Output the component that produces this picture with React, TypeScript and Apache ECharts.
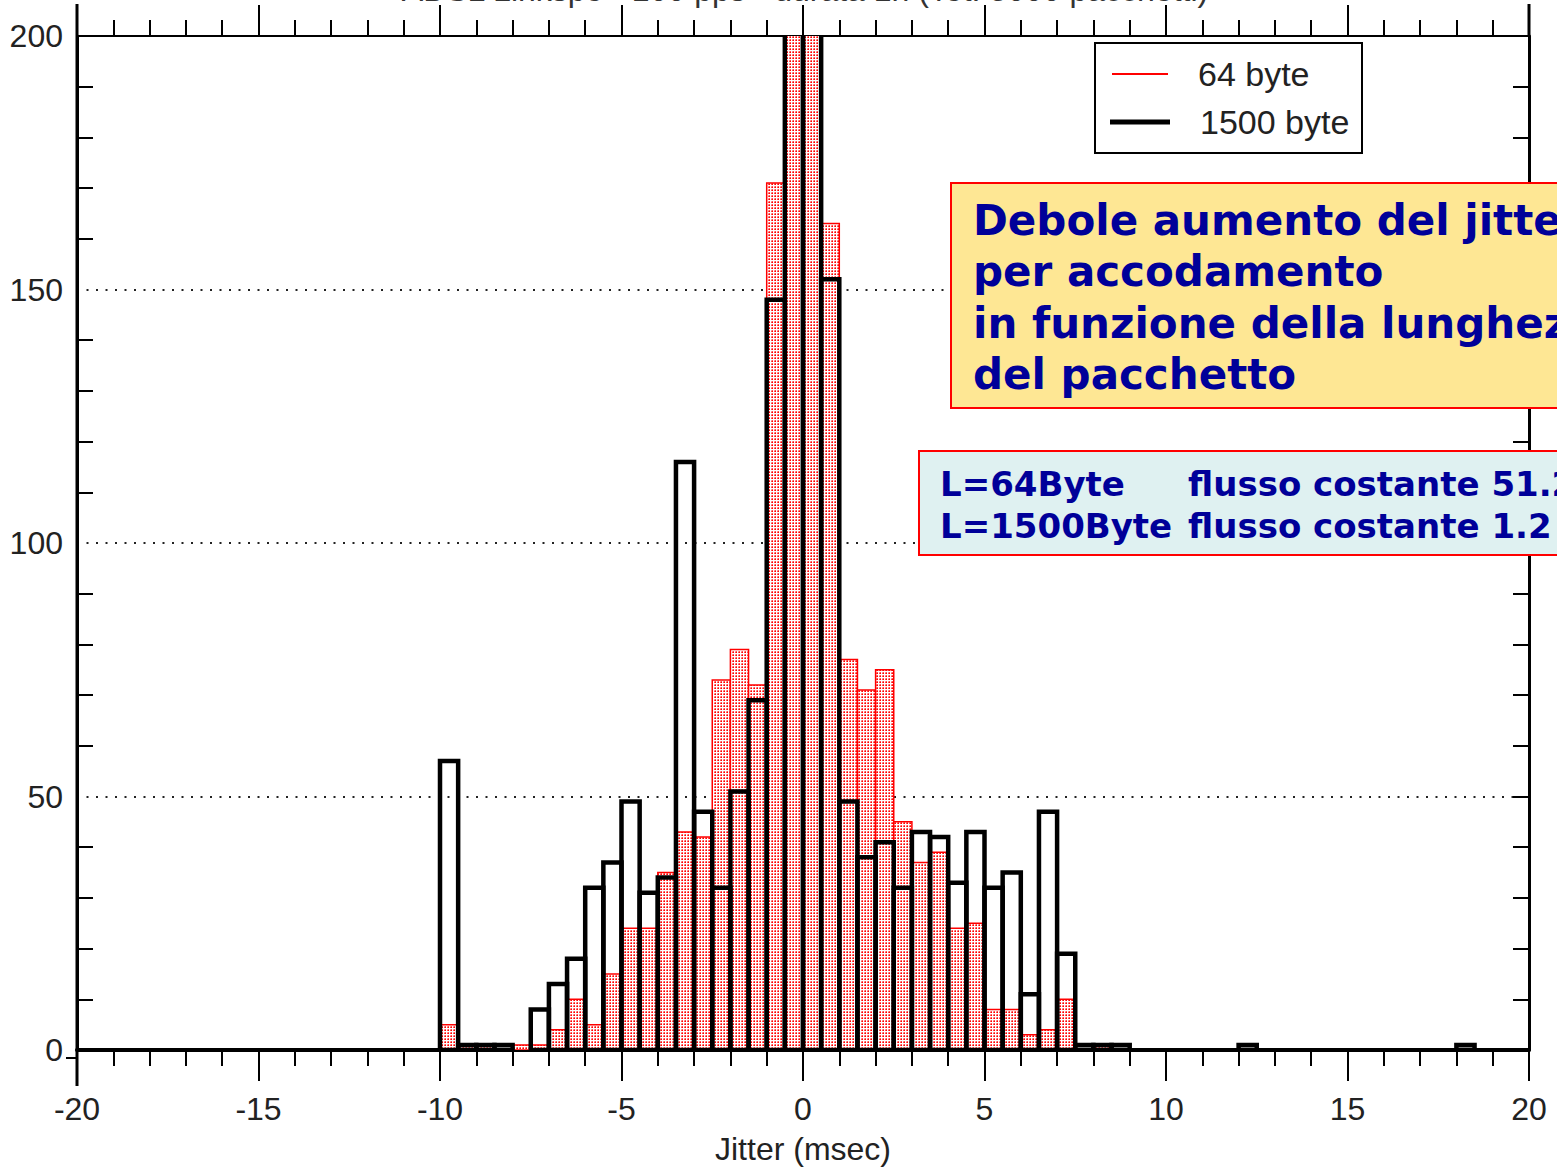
import React, { useEffect, useRef } from "react";
import * as echarts from "echarts";

// ---- data ----
const BIN_WIDTH = 0.5;
const binLeft = [
  -10, -9.5, -9, -8.5, -8, -7.5, -7, -6.5, -6, -5.5, -5, -4.5, -4, -3.5, -3, -2.5, -2, -1.5, -1, -0.5,
  0, 0.5, 1, 1.5, 2, 2.5, 3, 3.5, 4, 4.5, 5, 5.5, 6, 6.5, 7, 7.5, 8, 8.5, 12, 18,
];
const bytes64 = [
  5, 1, 1, 0, 1, 1, 4, 10, 5, 15, 24, 24, 35, 43, 42, 73, 79, 72, 171, 1900,
  1880, 163, 77, 71, 75, 45, 37, 39, 24, 25, 8, 8, 3, 4, 10, 0, 1, 0, 0, 0,
];
const bytes1500 = [
  57, 1, 1, 1, 0, 8, 13, 18, 32, 37, 49, 31, 34, 116, 47, 32, 51, 69, 148, 1800,
  1830, 152, 49, 38, 41, 32, 43, 42, 33, 43, 32, 35, 11, 47, 19, 1, 1, 1, 1, 1,
];
const seriesNames = ["64 byte", "1500 byte"];
const xRange = [-20, 20];
const yRange = [0, 200];
const titleText = "ADSL Linkspo - 100 pps - durata 1h (Tot. 5000 pacchetti)";
const xAxisName = "Jitter (msec)";
const noteLines = [
  "Debole aumento del jitter",
  "per accodamento",
  "in funzione della lunghezza",
  "del pacchetto",
];
const flowLabels = ["L=64Byte", "L=1500Byte"];
const flowTexts = ["flusso costante 51.2 kbit/s", "flusso costante 1.2 Mbit/s"];

const AXIS_FONT = "'Liberation Sans', Arial, Helvetica, sans-serif";
const NOTE_FONT = "'DejaVu Sans', Verdana, sans-serif";

function toBins(vals: number[]) {
  const out: number[][] = [];
  binLeft.forEach((l, i) => {
    if (vals[i] > 0) out.push([l, l + BIN_WIDTH, vals[i]]);
  });
  return out;
}

function makeRender(fill: any, stroke: string, lw: number) {
  return (_params: any, api: any) => {
    const x0 = api.value(0);
    const x1 = api.value(1);
    const v = api.value(2);
    const tl = api.coord([x0, v]);
    const br = api.coord([x1, 0]);
    return {
      type: "rect",
      shape: { x: tl[0], y: tl[1], width: br[0] - tl[0], height: br[1] - tl[1] },
      style: { fill, stroke, lineWidth: lw },
    };
  };
}

export default function App() {
  const ref = useRef<HTMLDivElement>(null);
  useEffect(() => {
    if (!ref.current) return;
    const chart = echarts.init(ref.current, undefined, { renderer: "svg" });

    const c = document.createElement("canvas");
    c.width = 3;
    c.height = 3;
    const ctx = c.getContext("2d")!;
    ctx.fillStyle = "#ffffff";
    ctx.fillRect(0, 0, 3, 3);
    ctx.fillStyle = "#ff9c9c";
    ctx.fillRect(0, 0, 1, 1);
    ctx.fillStyle = "#ff5050";
    ctx.fillRect(1, 0, 1, 1);
    ctx.fillRect(0, 1, 1, 1);
    ctx.fillStyle = "#ff0000";
    ctx.fillRect(1, 1, 1, 1);
    const pattern = { image: c, repeat: "repeat" };

    const tickStyle = { color: "#000", width: 2 };

    const option: any = {
      animation: false,
      backgroundColor: "#ffffff",
      grid: { left: 77, right: 28, top: 36, bottom: 112 },
      xAxis: [
        {
          type: "value",
          position: "bottom",
          min: xRange[0],
          max: xRange[1],
          interval: 5,
          axisLine: { show: true, onZero: false, lineStyle: { color: "#000", width: 4 } },
          axisTick: { show: true, inside: false, length: 31, lineStyle: tickStyle },
          minorTick: { show: true, splitNumber: 5, length: 16, lineStyle: tickStyle },
          splitLine: { show: false },
          axisLabel: { fontSize: 32, color: "#222", fontFamily: AXIS_FONT, margin: 43 },
          name: xAxisName,
          nameLocation: "middle",
          nameGap: 83,
          nameTextStyle: { fontSize: 32, color: "#222", fontFamily: AXIS_FONT },
        },
        {
          type: "value",
          position: "top",
          min: xRange[0],
          max: xRange[1],
          interval: 5,
          axisLine: { show: true, onZero: false, lineStyle: { color: "#000", width: 2 } },
          axisTick: { show: true, inside: false, length: 31, lineStyle: tickStyle },
          minorTick: { show: true, splitNumber: 5, length: 16, lineStyle: tickStyle },
          splitLine: { show: false },
          axisLabel: { show: false },
        },
      ],
      yAxis: [
        {
          type: "value",
          position: "left",
          min: yRange[0],
          max: yRange[1],
          interval: 50,
          axisLine: { show: true, onZero: false, lineStyle: { color: "#000", width: 3 } },
          axisTick: { show: false, inside: true },
          minorTick: { show: true, splitNumber: 5, length: 16, lineStyle: tickStyle },
          axisLabel: { fontSize: 32, color: "#222", fontFamily: AXIS_FONT, margin: 14 },
          splitLine: { show: true, lineStyle: { color: "#222", width: 2, type: [2, 7.5] } },
        },
        {
          type: "value",
          position: "right",
          min: yRange[0],
          max: yRange[1],
          interval: 50,
          axisLine: { show: true, onZero: false, lineStyle: { color: "#000", width: 3 } },
          axisTick: { show: true, inside: true, length: 16, lineStyle: tickStyle },
          minorTick: { show: true, splitNumber: 5, length: 16, lineStyle: tickStyle },
          axisLabel: { show: false },
          splitLine: { show: false },
        },
      ],
      series: [
        {
          name: seriesNames[0],
          type: "custom",
          xAxisIndex: 0,
          yAxisIndex: 0,
          clip: true,
          z: 2,
          encode: { x: [0, 1], y: 2 },
          data: toBins(bytes64),
          renderItem: makeRender(pattern, "#ff0000", 1.5),
        },
        {
          name: seriesNames[1],
          type: "custom",
          xAxisIndex: 0,
          yAxisIndex: 0,
          clip: true,
          z: 3,
          encode: { x: [0, 1], y: 2 },
          data: toBins(bytes1500),
          renderItem: makeRender("none", "#000000", 4.5),
        },
      ],
      graphic: [
        // axis line extensions beyond the plot frame
        { type: "line", z: 10, shape: { x1: 77, y1: 4, x2: 77, y2: 1086 }, style: { stroke: "#000", lineWidth: 3 } },
        { type: "line", z: 10, shape: { x1: 1529, y1: 4, x2: 1529, y2: 37 }, style: { stroke: "#000", lineWidth: 3 } },
        { type: "line", z: 10, shape: { x1: 66, y1: 1058, x2: 77, y2: 1058 }, style: { stroke: "#000", lineWidth: 2 } },
        // title (cut off at top)
        {
          type: "text",
          z: 10,
          x: 805,
          y: 6,
          style: {
            text: titleText,
            fontSize: 32,
            fontFamily: AXIS_FONT,
            fill: "#333",
            align: "center",
            verticalAlign: "bottom",
          },
        },
        // legend
        { type: "rect", z: 100, shape: { x: 1095, y: 43, width: 267, height: 110 }, style: { fill: "#fff", stroke: "#000", lineWidth: 2 } },
        { type: "line", z: 101, shape: { x1: 1112, y1: 74, x2: 1168, y2: 74 }, style: { stroke: "#ff0000", lineWidth: 2 } },
        { type: "line", z: 101, shape: { x1: 1110, y1: 122, x2: 1170, y2: 122 }, style: { stroke: "#000", lineWidth: 5 } },
        {
          type: "text",
          z: 101,
          x: 1198,
          y: 74,
          style: { text: seriesNames[0], fontSize: 34, fontFamily: AXIS_FONT, fill: "#222", verticalAlign: "middle" },
        },
        {
          type: "text",
          z: 101,
          x: 1200,
          y: 122,
          style: { text: seriesNames[1], fontSize: 34, fontFamily: AXIS_FONT, fill: "#222", verticalAlign: "middle" },
        },
        // yellow note box
        { type: "rect", z: 100, shape: { x: 951, y: 183, width: 700, height: 225 }, style: { fill: "#fee794", stroke: "#ff0000", lineWidth: 2 } },
        ...noteLines.map((t, i) => ({
          type: "text",
          z: 101,
          x: 973,
          y: 220 + i * 51.5,
          style: {
            text: t,
            fontSize: 42,
            fontWeight: "bold",
            fontFamily: NOTE_FONT,
            fill: "#000099",
            verticalAlign: "middle",
          },
        })),
        // blue flow box
        { type: "rect", z: 100, shape: { x: 919, y: 451, width: 700, height: 104 }, style: { fill: "#dff1f1", stroke: "#ff0000", lineWidth: 2 } },
        ...flowLabels.map((t, i) => ({
          type: "text",
          z: 101,
          x: 940,
          y: 484 + i * 42,
          style: { text: t, fontSize: 34, fontWeight: "bold", fontFamily: NOTE_FONT, fill: "#000099", verticalAlign: "middle" },
        })),
        ...flowTexts.map((t, i) => ({
          type: "text",
          z: 101,
          x: 1188,
          y: 484 + i * 42,
          style: { text: t, fontSize: 34, fontWeight: "bold", fontFamily: NOTE_FONT, fill: "#000099", verticalAlign: "middle" },
        })),
      ],
    };
    chart.setOption(option);
    return () => chart.dispose();
  }, []);

  return (
    <div
      ref={ref}
      style={{ position: "fixed", left: 0, top: 0, width: 1557, height: 1170, background: "#fff" }}
    />
  );
}
